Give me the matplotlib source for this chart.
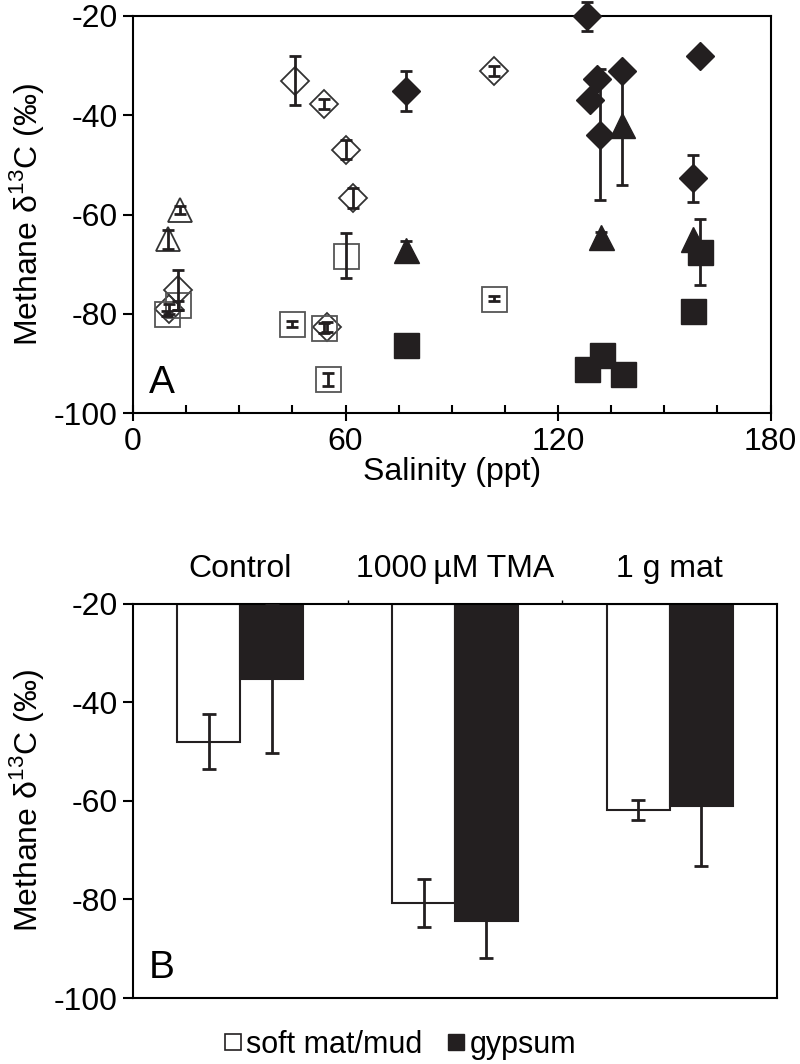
import numpy as np
import matplotlib
matplotlib.use("Agg")
import matplotlib.pyplot as plt
from matplotlib.lines import Line2D

plt.rcParams['font.family'] = ['Liberation Sans', 'DejaVu Sans']
plt.rcParams['mathtext.fontset'] = 'custom'
plt.rcParams['mathtext.rm'] = 'Liberation Sans'
plt.rcParams['axes.unicode_minus'] = False
plt.rcParams['font.size'] = 23

# --- panel A data (salinity ppt, methane d13C) ---
soft_dia_x = [12.8, 10.2, 45.7, 53.9, 54.7, 60.0, 62.0, 102.0]
soft_dia_y = [-75.2, -79.0, -33.0, -37.8, -82.6, -46.9, -56.6, -31.0]
soft_dia_err = [4.0, 1.0, 5.0, 1.0, 1.0, 2.0, 2.0, 1.0]

soft_tri_x = [13.3, 10.0]
soft_tri_y = [-59.0, -65.0]
soft_tri_err = [0.8, 2.0]

soft_sq_x = [9.6, 12.8, 45.0, 54.0, 55.0, 60.0, 102.0]
soft_sq_y = [-80.0, -78.3, -82.0, -82.8, -93.2, -68.3, -76.9]
soft_sq_err = [0.5, 1.0, 0.6, 1.0, 1.3, 4.5, 0.5]

gyp_dia_x = [77.1, 128.1, 129.0, 130.9, 131.8, 138.1, 158.1, 160.0]
gyp_dia_y = [-35.1, -20.1, -36.9, -32.7, -43.9, -31.1, -52.7, -28.1]
gyp_dia_err = [4.0, 3.0, 0, 1.0, 13.2, 0, 4.7, 0]

gyp_tri_x = [77.1, 132.1, 138.1, 158.0]
gyp_tri_y = [-67.2, -64.5, -42.0, -65.0]
gyp_tri_err = [1.8, 1.0, 12.0, 0]

gyp_sq_x = [77.1, 128.1, 132.3, 138.2, 158.1, 160.0]
gyp_sq_y = [-86.3, -91.0, -88.3, -92.0, -79.4, -67.5]
gyp_sq_err = [0, 0, 0, 0, 0, 6.6]

# --- panel B data ---
categories = ['Control', '1000\u2009µM TMA', '1 g mat']
soft_vals = [-48.0, -80.7, -61.9]
soft_err = [5.6, 4.9, 2.1]
gyp_vals = [-35.3, -84.3, -61.0]
gyp_err = [15.0, 7.5, 12.2]

BLACK = '#231f20'

fig = plt.figure(figsize=(8, 10.64), dpi=100)
ax1 = fig.add_axes([0.16625, 0.6116, 0.797, 0.3734])
ax2 = fig.add_axes([0.16625, 0.0620, 0.805, 0.3708])

def draw(ax, x, y, err, marker, ms, filled, edge):
    x = np.array(x); y = np.array(y); err = np.array(err, dtype=float)
    if filled:
        ax.plot(x, y, linestyle='none', marker=marker, ms=ms, mfc=BLACK,
                mec=BLACK, clip_on=False, zorder=3)
    else:
        ax.plot(x, y, linestyle='none', marker=marker, ms=ms, mfc='none',
                mec=edge, mew=1.3, clip_on=False, zorder=3)
    m = err > 0
    ax.errorbar(x[m], y[m], yerr=err[m], fmt='none', ecolor=BLACK,
                elinewidth=2, capsize=4.5, capthick=2, zorder=4, clip_on=False)

draw(ax1, soft_dia_x, soft_dia_y, soft_dia_err, 'D', 14, False, '#333333')
draw(ax1, soft_tri_x, soft_tri_y, soft_tri_err, '^', 17, False, '#333333')
draw(ax1, soft_sq_x, soft_sq_y, soft_sq_err, 's', 18, False, '#555555')
draw(ax1, gyp_dia_x, gyp_dia_y, gyp_dia_err, 'D', 14, True, BLACK)
draw(ax1, gyp_tri_x, gyp_tri_y, gyp_tri_err, '^', 18, True, BLACK)
draw(ax1, gyp_sq_x, gyp_sq_y, gyp_sq_err, 's', 18, True, BLACK)

ax1.set_xlim(0, 180)
ax1.set_ylim(-100, -20)
ax1.set_xticks([0, 60, 120, 180])
ax1.set_xticks(np.arange(0, 181, 15), minor=True)
ax1.set_yticks([-20, -40, -60, -80, -100])
ax1.tick_params(axis='x', which='major', direction='inout', length=12, width=1.5, pad=4)
ax1.tick_params(axis='x', which='minor', direction='in', length=6, width=1.5)
ax1.tick_params(axis='y', direction='out', length=7, width=1.5, pad=4)
ax1.set_xlabel('Salinity (ppt)', labelpad=0)
ax1.set_ylabel('Methane δ$^{\\mathrm{13}}$C (‰)', labelpad=6)
for s in ax1.spines.values():
    s.set_linewidth(1.5)
ax1.text(0.025, 0.03, 'A', transform=ax1.transAxes, fontsize=28, ha='left', va='bottom')

# panel B: bars hanging from -20
xpos = np.arange(len(categories))
w = 0.293
ax2.bar(xpos - w / 2, np.array(soft_vals) + 20, width=w, bottom=-20, color='white',
        edgecolor=BLACK, linewidth=1.5, zorder=2)
ax2.bar(xpos + w / 2, np.array(gyp_vals) + 20, width=w, bottom=-20, color=BLACK,
        edgecolor=BLACK, linewidth=1.5, zorder=2)
ax2.errorbar(xpos - w / 2, soft_vals, yerr=soft_err, fmt='none', ecolor=BLACK,
             elinewidth=2, capsize=5, capthick=2, zorder=3)
ax2.errorbar(xpos + w / 2, gyp_vals, yerr=gyp_err, fmt='none', ecolor=BLACK,
             elinewidth=2, capsize=5, capthick=2, zorder=3)
ax2.set_xlim(-0.5, 2.5)
ax2.set_ylim(-100, -20)
ax2.set_yticks([-20, -40, -60, -80, -100])
ax2.xaxis.tick_top()
ax2.set_xticks(xpos)
ax2.set_xticklabels(categories)
ax2.set_xticks([0.5, 1.5], minor=True)
ax2.tick_params(axis='x', which='major', length=0, pad=14)
ax2.tick_params(axis='x', which='minor', direction='out', length=3, width=1)
ax2.tick_params(axis='y', direction='out', length=7, width=1.5, pad=4)
ax2.set_ylabel('Methane δ$^{\\mathrm{13}}$C (‰)', labelpad=6)
for s in ax2.spines.values():
    s.set_linewidth(1.5)
ax2.text(0.025, 0.03, 'B', transform=ax2.transAxes, fontsize=28, ha='left', va='bottom')

handles = [Line2D([], [], linestyle='none', marker='s', ms=11, mfc='white', mec=BLACK, mew=1.2),
           Line2D([], [], linestyle='none', marker='s', ms=11, mfc=BLACK, mec=BLACK)]
fig.legend(handles, ['soft mat/mud', 'gypsum'], loc='center', bbox_to_anchor=(0.5, 0.018),
           ncol=2, frameon=False, fontsize=22, handlelength=0.6, handletextpad=0.15,
           columnspacing=0.8, borderpad=0)

fig.savefig('out.png', dpi=100)
